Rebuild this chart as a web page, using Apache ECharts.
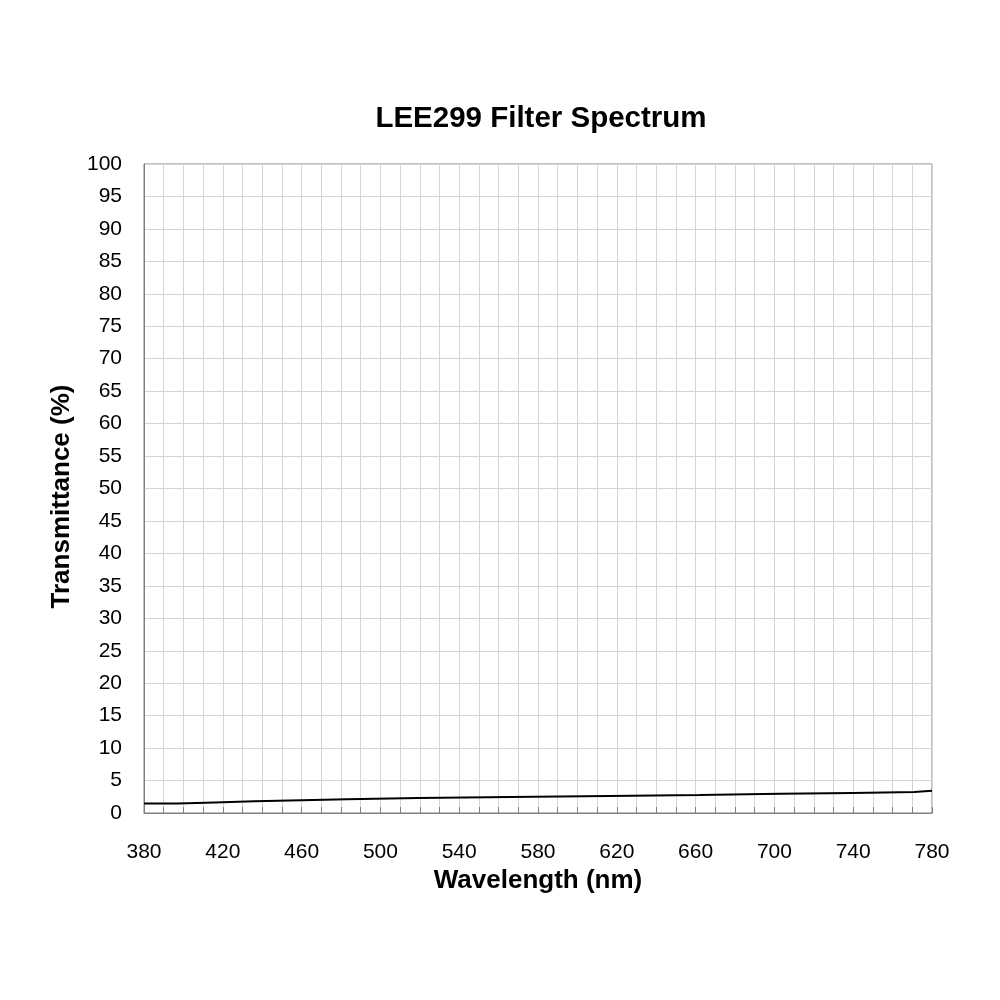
<!DOCTYPE html>
<html>
<head>
<meta charset="utf-8">
<script src="https://cdn.jsdelivr.net/npm/echarts@6/dist/echarts.min.js"></script>
<style>
  html, body { margin: 0; padding: 0; background: #fff; }
  #chart { width: 1000px; height: 1000px; }
</style>
</head>
<body>
<div id="chart"></div>
<script>
// step points of the measured curve: wavelength (nm) where the value changes
var wavelengths = [380, 397, 416, 436, 460, 483, 519, 566, 616, 662, 703, 740, 771, 780];
var transmittance = [1.45, 1.63, 1.8, 1.97, 2.13, 2.3, 2.45, 2.62, 2.78, 2.95, 3.1, 3.25, 3.43, 3.43];

// expand into a staircase: hold each value until the next wavelength
var data = [];
wavelengths.forEach(function (w, i) {
  if (i > 0) data.push([w, transmittance[i - 1]]);
  data.push([w, transmittance[i]]);
});

var chart = echarts.init(document.getElementById('chart'));

var font = 'Liberation Sans, Arial, sans-serif';

var option = {
  animation: false,
  backgroundColor: '#fff',
  title: {
    text: 'LEE299 Filter Spectrum',
    left: 536,
    top: 99,
    textAlign: 'center',
    textStyle: {
      fontFamily: font,
      fontSize: 29.5,
      fontWeight: 'bold',
      color: '#000'
    }
  },
  grid: {
    left: 144,
    right: 68,
    top: 164,
    bottom: 187,
    show: true,
    borderColor: '#808080',
    borderWidth: 1
  },
  xAxis: {
    type: 'value',
    min: 380,
    max: 780,
    interval: 10,
    name: 'Wavelength (nm)',
    nameLocation: 'middle',
    nameGap: 55,
    nameTextStyle: {
      fontFamily: font,
      fontSize: 26,
      fontWeight: 'bold',
      color: '#000'
    },
    axisLine: { lineStyle: { color: '#808080' } },
    axisTick: { show: true, inside: true, length: 6, lineStyle: { color: '#808080' } },
    axisLabel: {
      fontFamily: font,
      fontSize: 21,
      color: '#000',
      margin: 29,
      formatter: function (v) {
        return (v - 380) % 40 === 0 ? String(v) : '';
      }
    },
    splitLine: { show: true, lineStyle: { color: '#d4d4d4' } }
  },
  yAxis: {
    type: 'value',
    min: 0,
    max: 100,
    interval: 5,
    name: 'Transmittance (%)',
    nameLocation: 'middle',
    nameGap: 69,
    nameTextStyle: {
      fontFamily: font,
      fontSize: 26,
      fontWeight: 'bold',
      color: '#000',
      padding: [0, 16, 0, 0]
    },
    axisLine: { show: true, lineStyle: { color: '#808080' } },
    axisTick: { show: false },
    axisLabel: {
      fontFamily: font,
      fontSize: 21,
      color: '#000',
      margin: 22
    },
    splitLine: { show: true, lineStyle: { color: '#d4d4d4' } }
  },
  series: [{
    type: 'line',
    data: data,
    symbol: 'none',
    lineStyle: { color: '#000', width: 2 }
  }]
};

chart.setOption(option);
</script>
</body>
</html>
